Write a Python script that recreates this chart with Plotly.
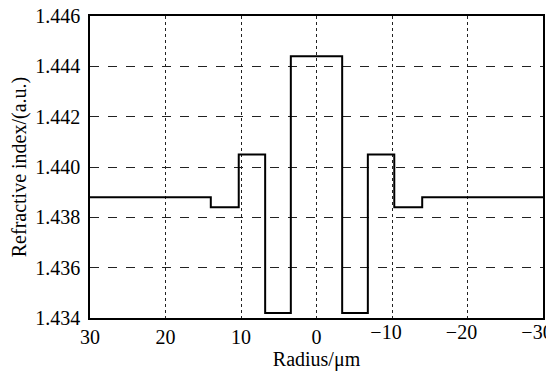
import plotly.graph_objects as go

# Step profile: boundaries (µm) and refractive index of each region
radius_edges = [30, 14, 10.3, 6.8, 3.4, -3.4, -6.8, -10.3, -14, -30]
index_levels = [1.4388, 1.4384, 1.4405, 1.4342, 1.4444, 1.4342, 1.4405, 1.4384, 1.4388]
x_ticks_pos = [30, 20, 10, 0]
x_ticks_neg = [-10, -20, -30]
y_ticks = [1.434, 1.436, 1.438, 1.440, 1.442, 1.444, 1.446]

y_vals = index_levels + [index_levels[-1]]

fig = go.Figure()
fig.add_trace(go.Scatter(
    x=radius_edges, y=y_vals, mode="lines", line_shape="hv",
    line=dict(color="black", width=2), showlegend=False,
))
# transparent twin on the overlay axis that carries the negative tick labels
fig.add_trace(go.Scatter(
    x=radius_edges, y=y_vals, mode="lines", line_shape="hv", xaxis="x2",
    line=dict(color="rgba(0,0,0,0)", width=0), opacity=0,
    showlegend=False, hoverinfo="skip",
))

font = dict(family="Liberation Serif", size=20, color="black")

# page body has an 8px margin, so the figure is sized/offset to compensate
fig.update_layout(
    width=546, height=366,
    margin=dict(l=82, r=11, t=8, b=56, autoexpand=False),
    paper_bgcolor="white", plot_bgcolor="white",
    font=font,
    xaxis=dict(
        range=[30, -30], tickvals=x_ticks_pos + x_ticks_neg,
        ticktext=[str(v) for v in x_ticks_pos] + [""] * len(x_ticks_neg), ticks="",
        showgrid=True, gridcolor="#222222", griddash="dot", gridwidth=1,
        showline=True, linecolor="black", linewidth=1.5, mirror=True,
        zeroline=False, title=dict(text="Radius/μm", standoff=2, font=font),
        tickfont=font, automargin=False, ticklabeloverflow="allow",
    ),
    xaxis2=dict(
        overlaying="x", matches="x", anchor="y", side="bottom",
        tickvals=x_ticks_neg, ticks="", showgrid=False, showline=False,
        zeroline=False, tickfont=font, automargin=False,
        ticklabeloverflow="allow", ticklabelshift=6,
    ),
    yaxis=dict(
        range=[1.434, 1.446], tickvals=y_ticks, tickformat=".3f", ticks="",
        showgrid=True, gridcolor="#222222", griddash="dash", gridwidth=1,
        showline=True, linecolor="black", linewidth=1.5, mirror=True,
        zeroline=False, title=dict(text="Refractive index/(a.u.)", standoff=8, font=font),
        tickfont=font, automargin=False, ticklabeloverflow="allow",
        ticklabelstandoff=4,
    ),
)

fig.write_html("out.html")
